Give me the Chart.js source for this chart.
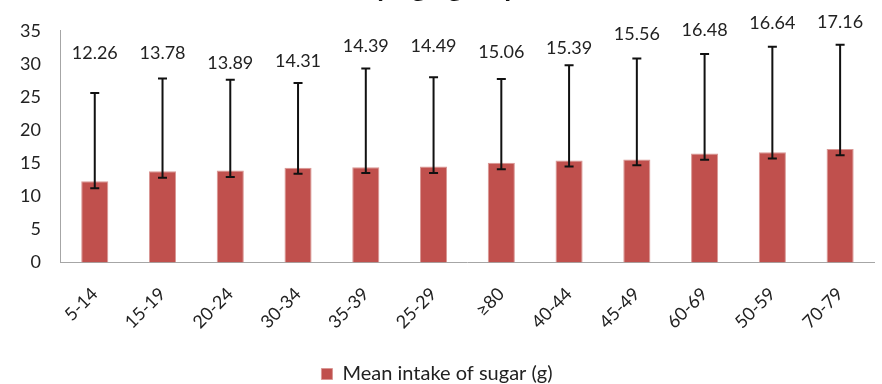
<!DOCTYPE html>
<html>
<head>
<meta charset="utf-8">
<script src="https://cdn.jsdelivr.net/npm/chart.js@4"></script>
<style>
    html, body { margin: 0; padding: 0; background: #fff; }
    #wrap { width: 882px; height: 384px; position: relative; }
</style>
</head>
<body>
<div id="wrap"><canvas id="sugarChart"></canvas></div>
<script>
// Age groups, in the order the chart shows them
const ageGroups = ['5-14', '15-19', '20-24', '30-34', '35-39', '25-29', '≥80', '40-44', '45-49', '60-69', '50-59', '70-79'];

// Mean intake of sugar (g)
const meanSugar = [12.26, 13.78, 13.89, 14.31, 14.39, 14.49, 15.06, 15.39, 15.56, 16.48, 16.64, 17.16];

// Error bar ends
const errLow = [11.2, 12.8, 12.9, 13.4, 13.5, 13.5, 14.1, 14.5, 14.7, 15.5, 15.7, 16.2];
const errHigh = [25.6, 27.8, 27.6, 27.1, 29.3, 28.0, 27.7, 29.8, 30.8, 31.5, 32.6, 32.9];

// Height (in axis units) where each value label sits
const labelAt = [31.55, 31.65, 30.13, 30.47, 32.73, 32.73, 31.76, 32.39, 34.46, 35.1, 36.1, 36.35];

const FONT = 'Lato, "Noto Sans", sans-serif';

// Draw error bars and value labels on top of the bars
const errorBarPlugin = {
    id: 'errorBars',
    afterDatasetsDraw(chart) {
        const ctx = chart.ctx;
        const meta = chart.getDatasetMeta(0);
        const y = chart.scales.y;

        ctx.save();
        ctx.strokeStyle = '#111';
        ctx.lineWidth = 2;
        meta.data.forEach((bar, i) => {
            const x = bar.x;
            const top = y.getPixelForValue(errHigh[i]);
            const bottom = y.getPixelForValue(errLow[i]);
            ctx.beginPath();
            ctx.moveTo(x, top);
            ctx.lineTo(x, bottom);
            ctx.moveTo(x - 4.5, top);
            ctx.lineTo(x + 4.5, top);
            ctx.moveTo(x - 4.5, bottom);
            ctx.lineTo(x + 4.5, bottom);
            ctx.stroke();
        });

        ctx.fillStyle = '#222';
        ctx.font = '18px ' + FONT;
        ctx.textAlign = 'center';
        ctx.textBaseline = 'middle';
        meta.data.forEach((bar, i) => {
            ctx.fillText(meanSugar[i].toFixed(2), bar.x, y.getPixelForValue(labelAt[i]));
        });

        // title is cut off at the top of the picture, only descenders show
        ctx.fillStyle = '#111';
        ctx.font = 'bold 28px ' + FONT;
        ctx.textAlign = 'left';
        ctx.textBaseline = 'alphabetic';
        ctx.fillText('by age group', 360, -4.5);
        ctx.restore();
    }
};

new Chart(document.getElementById('sugarChart'), {
    type: 'bar',
    data: {
        labels: ageGroups,
        datasets: [{
            label: 'Mean intake of sugar (g)',
            data: meanSugar,
            backgroundColor: '#C0504D',
            borderColor: '#D99794',
            borderWidth: 1,
            barPercentage: 0.4,
            categoryPercentage: 1.0
        }]
    },
    options: {
        responsive: true,
        maintainAspectRatio: false,
        animation: false,
        layout: {
            padding: { top: 14, right: 8, left: 0, bottom: -10 }
        },
        scales: {
            x: {
                grid: { display: false, drawTicks: false },
                border: { color: '#A6A6A6', width: 1 },
                ticks: {
                    color: '#222',
                    font: { family: FONT, size: 18 },
                    minRotation: 45,
                    maxRotation: 45,
                    padding: 21
                }
            },
            y: {
                min: 0,
                max: 35,
                grid: { display: false, drawTicks: false },
                border: { color: '#A6A6A6', width: 1 },
                ticks: {
                    stepSize: 5,
                    color: '#222',
                    font: { family: FONT, size: 18 },
                    padding: 20
                }
            }
        },
        plugins: {
            legend: {
                position: 'bottom',
                labels: {
                    color: '#222',
                    font: { family: FONT, size: 20 },
                    boxWidth: 11,
                    boxHeight: 11,
                    padding: 10
                }
            },
            tooltip: { enabled: false }
        }
    },
    plugins: [errorBarPlugin]
});
</script>
</body>
</html>
